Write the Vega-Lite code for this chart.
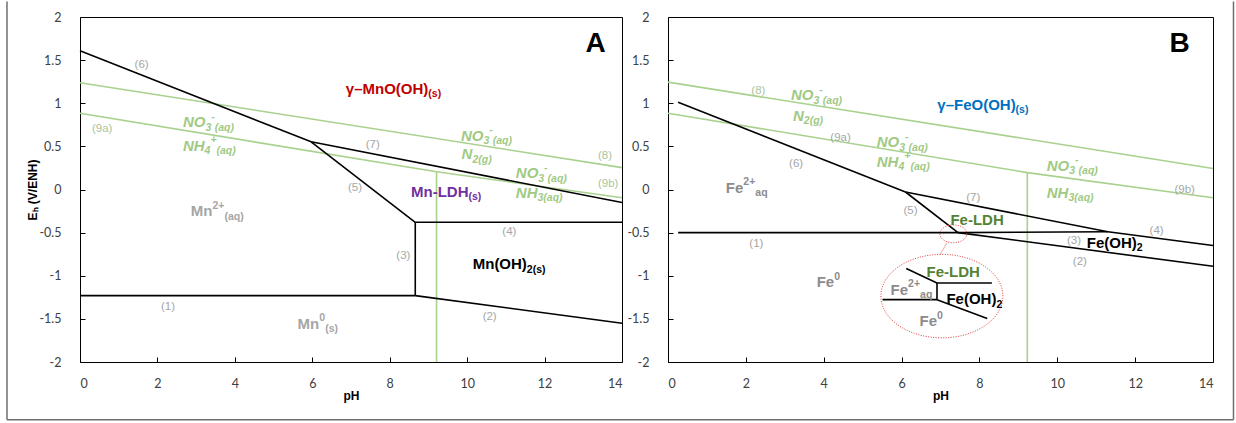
{
  "$schema": "https://vega.github.io/schema/vega-lite/v6.json",
  "padding": {"left": 5, "top": 0, "right": 0, "bottom": 0},
  "background": "white",
  "bounds": "flush",
  "spacing": 46,
  "datasets": {
    "lines": [
      {"p": "A", "id": "g8", "c": "g", "o": 0, "ph": 0, "e": 1.238},
      {"p": "A", "id": "g8", "c": "g", "o": 1, "ph": 14, "e": 0.254},
      {"p": "A", "id": "g9a", "c": "g", "o": 0, "ph": 0, "e": 0.884},
      {"p": "A", "id": "g9a", "c": "g", "o": 1, "ph": 9.21, "e": 0.205},
      {"p": "A", "id": "g9b", "c": "g", "o": 0, "ph": 9.21, "e": 0.205},
      {"p": "A", "id": "g9b", "c": "g", "o": 1, "ph": 14, "e": -0.095},
      {"p": "A", "id": "gv", "c": "g", "o": 0, "ph": 9.21, "e": 0.205},
      {"p": "A", "id": "gv", "c": "g", "o": 1, "ph": 9.21, "e": -2},
      {"p": "A", "id": "k6", "c": "k", "o": 0, "ph": 0, "e": 1.61},
      {"p": "A", "id": "k6", "c": "k", "o": 1, "ph": 5.97, "e": 0.553},
      {"p": "A", "id": "k7", "c": "k", "o": 0, "ph": 5.97, "e": 0.553},
      {"p": "A", "id": "k7", "c": "k", "o": 1, "ph": 14, "e": -0.15},
      {"p": "A", "id": "k5", "c": "k", "o": 0, "ph": 5.97, "e": 0.553},
      {"p": "A", "id": "k5", "c": "k", "o": 1, "ph": 8.66, "e": -0.38},
      {"p": "A", "id": "k4", "c": "k", "o": 0, "ph": 8.66, "e": -0.38},
      {"p": "A", "id": "k4", "c": "k", "o": 1, "ph": 14, "e": -0.38},
      {"p": "A", "id": "k3", "c": "k", "o": 0, "ph": 8.66, "e": -0.38},
      {"p": "A", "id": "k3", "c": "k", "o": 1, "ph": 8.66, "e": -1.23},
      {"p": "A", "id": "k1", "c": "k", "o": 0, "ph": 0, "e": -1.23},
      {"p": "A", "id": "k1", "c": "k", "o": 1, "ph": 8.66, "e": -1.23},
      {"p": "A", "id": "k2", "c": "k", "o": 0, "ph": 8.66, "e": -1.23},
      {"p": "A", "id": "k2", "c": "k", "o": 1, "ph": 14, "e": -1.55},
      {"p": "B", "id": "g8", "c": "g", "o": 0, "ph": 0, "e": 1.245},
      {"p": "B", "id": "g8", "c": "g", "o": 1, "ph": 14, "e": 0.243},
      {"p": "B", "id": "g9a", "c": "g", "o": 0, "ph": 0, "e": 0.884},
      {"p": "B", "id": "g9a", "c": "g", "o": 1, "ph": 9.23, "e": 0.196},
      {"p": "B", "id": "g9b", "c": "g", "o": 0, "ph": 9.23, "e": 0.196},
      {"p": "B", "id": "g9b", "c": "g", "o": 1, "ph": 14, "e": -0.096},
      {"p": "B", "id": "gv", "c": "g", "o": 0, "ph": 9.23, "e": 0.196},
      {"p": "B", "id": "gv", "c": "g", "o": 1, "ph": 9.23, "e": -2},
      {"p": "B", "id": "k6", "c": "k", "o": 0, "ph": 0.26, "e": 1.012},
      {"p": "B", "id": "k6", "c": "k", "o": 1, "ph": 6.1, "e": -0.029},
      {"p": "B", "id": "k7", "c": "k", "o": 0, "ph": 6.1, "e": -0.029},
      {"p": "B", "id": "k7", "c": "k", "o": 1, "ph": 11.3, "e": -0.49},
      {"p": "B", "id": "k4", "c": "k", "o": 0, "ph": 11.3, "e": -0.49},
      {"p": "B", "id": "k4", "c": "k", "o": 1, "ph": 14, "e": -0.65},
      {"p": "B", "id": "k5", "c": "k", "o": 0, "ph": 6.1, "e": -0.029},
      {"p": "B", "id": "k5", "c": "k", "o": 1, "ph": 7.45, "e": -0.5},
      {"p": "B", "id": "k1", "c": "k", "o": 0, "ph": 0.26, "e": -0.5},
      {"p": "B", "id": "k1", "c": "k", "o": 1, "ph": 7.45, "e": -0.5},
      {"p": "B", "id": "k3", "c": "k", "o": 0, "ph": 7.45, "e": -0.5},
      {"p": "B", "id": "k3", "c": "k", "o": 1, "ph": 11.3, "e": -0.49},
      {"p": "B", "id": "k2", "c": "k", "o": 0, "ph": 7.45, "e": -0.5},
      {"p": "B", "id": "k2", "c": "k", "o": 1, "ph": 14, "e": -0.89},
      {"p": "B", "id": "i1", "c": "k", "o": 0, "ph": 6.12, "e": -0.917},
      {"p": "B", "id": "i1", "c": "k", "o": 1, "ph": 6.91, "e": -1.084},
      {"p": "B", "id": "i2", "c": "k", "o": 0, "ph": 6.91, "e": -1.084},
      {"p": "B", "id": "i2", "c": "k", "o": 1, "ph": 8.32, "e": -1.084},
      {"p": "B", "id": "i3", "c": "k", "o": 0, "ph": 6.91, "e": -1.084},
      {"p": "B", "id": "i3", "c": "k", "o": 1, "ph": 6.91, "e": -1.277},
      {"p": "B", "id": "i4", "c": "k", "o": 0, "ph": 5.51, "e": -1.277},
      {"p": "B", "id": "i4", "c": "k", "o": 1, "ph": 6.91, "e": -1.277},
      {"p": "B", "id": "i5", "c": "k", "o": 0, "ph": 6.91, "e": -1.277},
      {"p": "B", "id": "i5", "c": "k", "o": 1, "ph": 8.2, "e": -1.495},
      {"p": "B", "id": "cn", "c": "r", "o": 0, "ph": 7.17, "e": -0.615},
      {"p": "B", "id": "cn", "c": "r", "o": 1, "ph": 6.99, "e": -0.754}
    ],
    "ell": [
      {"p": "B", "id": "big", "ph": 7.036, "e": -1.236},
      {"p": "B", "id": "small", "ph": 7.33, "e": -0.514}
    ],
    "frame": [
      {"ph": -1.886, "e": 2.18, "ph2": -1.886, "e2": -2.67},
      {"ph": 29.795, "e": 2.18, "ph2": 29.795, "e2": -2.67},
      {"ph": -1.886, "e": -2.67, "ph2": 29.795, "e2": -2.67}
    ],
    "labels": [
      {"p": "A", "k": "n", "c": "gr", "t": "(6)", "ph": 1.41, "e": 1.44},
      {"p": "A", "k": "n", "c": "gg", "t": "(9a)", "ph": 0.31, "e": 0.70},
      {"p": "A", "k": "n", "c": "gr", "t": "(7)", "ph": 7.38, "e": 0.52},
      {"p": "A", "k": "n", "c": "gg", "t": "(8)", "ph": 13.38, "e": 0.39},
      {"p": "A", "k": "n", "c": "gg", "t": "(9b)", "ph": 13.38, "e": 0.06},
      {"p": "A", "k": "n", "c": "gr", "t": "(5)", "ph": 6.92, "e": 0.02},
      {"p": "A", "k": "n", "c": "gr", "t": "(4)", "ph": 10.91, "e": -0.49},
      {"p": "A", "k": "n", "c": "gr", "t": "(3)", "ph": 8.17, "e": -0.77},
      {"p": "A", "k": "n", "c": "gr", "t": "(1)", "ph": 2.09, "e": -1.36},
      {"p": "A", "k": "n", "c": "gr", "t": "(2)", "ph": 10.40, "e": -1.475},
      {"p": "A", "k": "s", "c": "red", "t": "γ–MnO(OH)", "ph": 6.866, "e": 1.168},
      {"p": "A", "k": "ss", "c": "red", "t": "(s)", "ph": 8.997, "e": 1.168},
      {"p": "A", "k": "s", "c": "pur", "t": "Mn-LDH", "ph": 8.55, "e": -0.025},
      {"p": "A", "k": "ss", "c": "pur", "t": "(s)", "ph": 10.035, "e": -0.025},
      {"p": "A", "k": "s", "c": "gm", "t": "Mn", "ph": 2.862, "e": -0.25},
      {"p": "A", "k": "sp", "c": "gm", "t": "2+", "ph": 3.422, "e": -0.25},
      {"p": "A", "k": "ss", "c": "gm", "t": "(aq)", "ph": 3.73, "e": -0.25},
      {"p": "A", "k": "s", "c": "blk", "t": "Mn(OH)", "ph": 10.144, "e": -0.868},
      {"p": "A", "k": "ss", "c": "blk", "t": "2(s)", "ph": 11.542, "e": -0.868},
      {"p": "A", "k": "s", "c": "gm", "t": "Mn", "ph": 5.621, "e": -1.555},
      {"p": "A", "k": "sp", "c": "gm", "t": "0", "ph": 6.181, "e": -1.555},
      {"p": "A", "k": "ss", "c": "gm", "t": "(s)", "ph": 6.332, "e": -1.555},
      {"p": "A", "k": "i", "c": "g", "t": "NO", "ph": 2.658, "e": 0.78},
      {"p": "A", "k": "is", "c": "g", "t": "3", "ph": 3.239, "e": 0.78},
      {"p": "A", "k": "ip", "c": "g", "t": "-", "ph": 3.389, "e": 0.78},
      {"p": "A", "k": "is", "c": "g", "t": "(aq)", "ph": 3.479, "e": 0.78},
      {"p": "A", "k": "i", "c": "g", "t": "NH", "ph": 2.658, "e": 0.507},
      {"p": "A", "k": "is", "c": "g", "t": "4", "ph": 3.218, "e": 0.507},
      {"p": "A", "k": "ip", "c": "g", "t": "+", "ph": 3.368, "e": 0.507},
      {"p": "A", "k": "is", "c": "g", "t": "(aq)", "ph": 3.526, "e": 0.507},
      {"p": "A", "k": "i", "c": "g", "t": "NO", "ph": 9.839, "e": 0.624},
      {"p": "A", "k": "is", "c": "g", "t": "3", "ph": 10.42, "e": 0.624},
      {"p": "A", "k": "ip", "c": "g", "t": "-", "ph": 10.57, "e": 0.624},
      {"p": "A", "k": "is", "c": "g", "t": "(aq)", "ph": 10.66, "e": 0.624},
      {"p": "A", "k": "i", "c": "g", "t": "N", "ph": 9.857, "e": 0.41},
      {"p": "A", "k": "is", "c": "g", "t": "2(g)", "ph": 10.136, "e": 0.41},
      {"p": "A", "k": "i", "c": "g", "t": "NO", "ph": 11.257, "e": 0.19},
      {"p": "A", "k": "is", "c": "g", "t": "3", "ph": 11.838, "e": 0.19},
      {"p": "A", "k": "ip", "c": "g", "t": "-", "ph": 11.988, "e": 0.19},
      {"p": "A", "k": "is", "c": "g", "t": "(aq)", "ph": 12.078, "e": 0.19},
      {"p": "A", "k": "i", "c": "g", "t": "NH", "ph": 11.257, "e": -0.037},
      {"p": "A", "k": "is", "c": "g", "t": "3(aq)", "ph": 11.817, "e": -0.037},
      {"p": "A", "k": "L", "c": "blk", "t": "A", "ph": 13.32, "e": 1.685},
      {"p": "B", "k": "n", "c": "gg", "t": "(8)", "ph": 2.14, "e": 1.14},
      {"p": "B", "k": "n", "c": "gr", "t": "(9a)", "ph": 4.17, "e": 0.60},
      {"p": "B", "k": "n", "c": "gr", "t": "(6)", "ph": 3.11, "e": 0.30},
      {"p": "B", "k": "n", "c": "gr", "t": "(7)", "ph": 7.66, "e": -0.096},
      {"p": "B", "k": "n", "c": "gr", "t": "(9b)", "ph": 13.01, "e": 0.0},
      {"p": "B", "k": "n", "c": "gr", "t": "(5)", "ph": 6.05, "e": -0.25},
      {"p": "B", "k": "n", "c": "gr", "t": "(4)", "ph": 12.37, "e": -0.48},
      {"p": "B", "k": "n", "c": "gr", "t": "(1)", "ph": 2.09, "e": -0.636},
      {"p": "B", "k": "n", "c": "gr", "t": "(3)", "ph": 10.25, "e": -0.597},
      {"p": "B", "k": "n", "c": "gr", "t": "(2)", "ph": 10.40, "e": -0.84},
      {"p": "B", "k": "s", "c": "blu", "t": "γ–FeO(OH)", "ph": 6.918, "e": 0.985},
      {"p": "B", "k": "ss", "c": "blu", "t": "(s)", "ph": 8.929, "e": 0.985},
      {"p": "B", "k": "s", "c": "gf", "t": "Fe", "ph": 1.485, "e": 0.02},
      {"p": "B", "k": "sp", "c": "gf", "t": "2+", "ph": 1.934, "e": 0.02},
      {"p": "B", "k": "ss", "c": "gf", "t": "aq", "ph": 2.243, "e": 0.02},
      {"p": "B", "k": "s", "c": "olv", "t": "Fe-LDH", "ph": 7.254, "e": -0.35},
      {"p": "B", "k": "s", "c": "blk", "t": "Fe(OH)", "ph": 10.758, "e": -0.62},
      {"p": "B", "k": "ss", "c": "blk", "t": "2", "ph": 12.042, "e": -0.62},
      {"p": "B", "k": "s", "c": "gf", "t": "Fe", "ph": 3.82, "e": -1.075},
      {"p": "B", "k": "sp", "c": "gf", "t": "0", "ph": 4.269, "e": -1.075},
      {"p": "B", "k": "s", "c": "olv", "t": "Fe-LDH", "ph": 6.643, "e": -0.957},
      {"p": "B", "k": "s", "c": "gf", "t": "Fe", "ph": 5.718, "e": -1.16},
      {"p": "B", "k": "sp", "c": "gf", "t": "2+", "ph": 6.168, "e": -1.16},
      {"p": "B", "k": "ss", "c": "gf", "t": "aq", "ph": 6.476, "e": -1.16},
      {"p": "B", "k": "s", "c": "blk", "t": "Fe(OH)", "ph": 7.151, "e": -1.27},
      {"p": "B", "k": "ss", "c": "blk", "t": "2", "ph": 8.436, "e": -1.27},
      {"p": "B", "k": "s", "c": "gf", "t": "Fe", "ph": 6.46, "e": -1.527},
      {"p": "B", "k": "sp", "c": "gf", "t": "0", "ph": 6.91, "e": -1.527},
      {"p": "B", "k": "i", "c": "g", "t": "NO", "ph": 3.16, "e": 1.09},
      {"p": "B", "k": "is", "c": "g", "t": "3", "ph": 3.737, "e": 1.09},
      {"p": "B", "k": "ip", "c": "g", "t": "-", "ph": 3.887, "e": 1.09},
      {"p": "B", "k": "is", "c": "g", "t": "(aq)", "ph": 3.977, "e": 1.09},
      {"p": "B", "k": "i", "c": "g", "t": "N", "ph": 3.211, "e": 0.857},
      {"p": "B", "k": "is", "c": "g", "t": "2(g)", "ph": 3.489, "e": 0.857},
      {"p": "B", "k": "i", "c": "g", "t": "NO", "ph": 5.363, "e": 0.546},
      {"p": "B", "k": "is", "c": "g", "t": "3", "ph": 5.942, "e": 0.546},
      {"p": "B", "k": "ip", "c": "g", "t": "-", "ph": 6.091, "e": 0.546},
      {"p": "B", "k": "is", "c": "g", "t": "(aq)", "ph": 6.18, "e": 0.546},
      {"p": "B", "k": "i", "c": "g", "t": "NH", "ph": 5.363, "e": 0.32},
      {"p": "B", "k": "is", "c": "g", "t": "4", "ph": 5.92, "e": 0.32},
      {"p": "B", "k": "ip", "c": "g", "t": "+", "ph": 6.07, "e": 0.32},
      {"p": "B", "k": "is", "c": "g", "t": "(aq)", "ph": 6.227, "e": 0.32},
      {"p": "B", "k": "i", "c": "g", "t": "NO", "ph": 9.73, "e": 0.274},
      {"p": "B", "k": "is", "c": "g", "t": "3", "ph": 10.308, "e": 0.274},
      {"p": "B", "k": "ip", "c": "g", "t": "-", "ph": 10.457, "e": 0.274},
      {"p": "B", "k": "is", "c": "g", "t": "(aq)", "ph": 10.547, "e": 0.274},
      {"p": "B", "k": "i", "c": "g", "t": "NH", "ph": 9.73, "e": -0.037},
      {"p": "B", "k": "is", "c": "g", "t": "3(aq)", "ph": 10.288, "e": -0.037},
      {"p": "B", "k": "L", "c": "blk", "t": "B", "ph": 13.14, "e": 1.685}
    ]
  },
  "hconcat": [
    {
      "width": 542,
      "height": 345,
      "encoding": {
        "x": {"field": "ph", "type": "quantitative", "title": "pH", "scale": {"domain": [0, 14], "nice": false, "zero": false}, "axis": {"values": [0, 2, 4, 6, 8, 10, 12, 14], "labelExpr": "toString(datum.value)"}},
        "y": {"field": "e", "type": "quantitative", "title": "Eₕ (V/ENH)", "scale": {"domain": [-2, 2], "nice": false, "zero": false}, "axis": {"values": [-2, -1.5, -1, -0.5, 0, 0.5, 1, 1.5, 2], "labelExpr": "toString(datum.value)"}},
        "color": {"field": "c", "type": "nominal", "legend": null, "scale": {"domain": ["gr", "gg", "g", "red", "pur", "blu", "olv", "blk", "gm", "gf"], "range": ["#a6a6a6", "#a9c39b", "#9fca84", "#c00000", "#7030a0", "#0070c0", "#548235", "#000000", "#a6a6a6", "#8c8c8c"]}}
      },
      "layer": [
        {"data": {"name": "frame"}, "mark": {"type": "rule", "stroke": "#6e6e6e", "strokeWidth": 1.5, "clip": false}, "encoding": {"x2": {"field": "ph2"}, "y2": {"field": "e2"}, "color": {"value": "#6e6e6e"}}},
        {"data": {"name": "lines"}, "transform": [{"filter": "datum.p === 'A' && datum.c === 'g'"}], "mark": {"type": "line", "strokeWidth": 1.6}, "encoding": {"color": {"value": "#a9d18e"}, "detail": {"field": "id", "type": "nominal"}, "order": {"field": "o", "type": "quantitative"}}},
        {"data": {"name": "lines"}, "transform": [{"filter": "datum.p === 'A' && datum.c === 'k'"}], "mark": {"type": "line", "strokeWidth": 1.6}, "encoding": {"color": {"value": "#000000"}, "detail": {"field": "id", "type": "nominal"}, "order": {"field": "o", "type": "quantitative"}}},
        {"data": {"name": "labels"}, "transform": [{"filter": "datum.p === 'A' && datum.k === 'n'"}], "mark": {"type": "text", "align": "left", "baseline": "middle", "font": "Liberation Sans", "fontSize": 11.5}, "encoding": {"text": {"field": "t"}}},
        {"data": {"name": "labels"}, "transform": [{"filter": "datum.p === 'A' && datum.k === 's'"}], "mark": {"type": "text", "align": "left", "baseline": "middle", "font": "Liberation Sans", "fontWeight": "bold", "fontSize": 15}, "encoding": {"text": {"field": "t"}}},
        {"data": {"name": "labels"}, "transform": [{"filter": "datum.p === 'A' && datum.k === 'ss'"}], "mark": {"type": "text", "align": "left", "baseline": "middle", "dy": 5.5, "font": "Liberation Sans", "fontWeight": "bold", "fontSize": 10.5}, "encoding": {"text": {"field": "t"}}},
        {"data": {"name": "labels"}, "transform": [{"filter": "datum.p === 'A' && datum.k === 'sp'"}], "mark": {"type": "text", "align": "left", "baseline": "middle", "dy": -5.5, "font": "Liberation Sans", "fontWeight": "bold", "fontSize": 10.5}, "encoding": {"text": {"field": "t"}}},
        {"data": {"name": "labels"}, "transform": [{"filter": "datum.p === 'A' && datum.k === 'i'"}], "mark": {"type": "text", "align": "left", "baseline": "middle", "font": "Liberation Sans", "fontWeight": "bold", "fontStyle": "italic", "fontSize": 15}, "encoding": {"text": {"field": "t"}}},
        {"data": {"name": "labels"}, "transform": [{"filter": "datum.p === 'A' && datum.k === 'is'"}], "mark": {"type": "text", "align": "left", "baseline": "middle", "dy": 5.5, "font": "Liberation Sans", "fontWeight": "bold", "fontStyle": "italic", "fontSize": 10.5}, "encoding": {"text": {"field": "t"}}},
        {"data": {"name": "labels"}, "transform": [{"filter": "datum.p === 'A' && datum.k === 'ip'"}], "mark": {"type": "text", "align": "left", "baseline": "middle", "dy": -5.5, "font": "Liberation Sans", "fontWeight": "bold", "fontStyle": "italic", "fontSize": 10.5}, "encoding": {"text": {"field": "t"}}},
        {"data": {"name": "labels"}, "transform": [{"filter": "datum.p === 'A' && datum.k === 'L'"}], "mark": {"type": "text", "align": "center", "baseline": "middle", "font": "Liberation Sans", "fontWeight": "bold", "fontSize": 28}, "encoding": {"text": {"field": "t"}}}
      ]
    },
    {
      "width": 545,
      "height": 345,
      "encoding": {
        "x": {"field": "ph", "type": "quantitative", "title": "pH", "scale": {"domain": [0, 14], "nice": false, "zero": false}, "axis": {"values": [0, 2, 4, 6, 8, 10, 12, 14], "labelExpr": "toString(datum.value)"}},
        "y": {"field": "e", "type": "quantitative", "title": null, "scale": {"domain": [-2, 2], "nice": false, "zero": false}, "axis": {"values": [-2, -1.5, -1, -0.5, 0, 0.5, 1, 1.5, 2], "labelExpr": "toString(datum.value)"}},
        "color": {"field": "c", "type": "nominal", "legend": null, "scale": {"domain": ["gr", "gg", "g", "red", "pur", "blu", "olv", "blk", "gm", "gf"], "range": ["#a6a6a6", "#a9c39b", "#9fca84", "#c00000", "#7030a0", "#0070c0", "#548235", "#000000", "#a6a6a6", "#8c8c8c"]}}
      },
      "layer": [
        {"data": {"name": "lines"}, "transform": [{"filter": "datum.p === 'B' && datum.c === 'g'"}], "mark": {"type": "line", "strokeWidth": 1.6}, "encoding": {"color": {"value": "#a9d18e"}, "detail": {"field": "id", "type": "nominal"}, "order": {"field": "o", "type": "quantitative"}}},
        {"data": {"name": "lines"}, "transform": [{"filter": "datum.p === 'B' && datum.c === 'k'"}], "mark": {"type": "line", "strokeWidth": 1.6}, "encoding": {"color": {"value": "#000000"}, "detail": {"field": "id", "type": "nominal"}, "order": {"field": "o", "type": "quantitative"}}},
        {"data": {"name": "lines"}, "transform": [{"filter": "datum.p === 'B' && datum.c === 'r'"}], "mark": {"type": "line", "strokeWidth": 1}, "encoding": {"color": {"value": "#f2a6a6"}, "detail": {"field": "id", "type": "nominal"}, "order": {"field": "o", "type": "quantitative"}}},
        {"data": {"name": "ell"}, "transform": [{"filter": "datum.id === 'big'"}], "mark": {"type": "point", "shape": "M -1 0 A 1 0.684 0 1 0 1 0 A 1 0.684 0 1 0 -1 0 Z", "size": 14884, "filled": false, "strokeWidth": 1, "strokeDash": [1, 1.5], "opacity": 1}, "encoding": {"color": {"value": "#e03c3c"}}},
        {"data": {"name": "ell"}, "transform": [{"filter": "datum.id === 'small'"}], "mark": {"type": "point", "shape": "M -1 0 A 1 0.66 0 1 0 1 0 A 1 0.66 0 1 0 -1 0 Z", "size": 729, "filled": false, "strokeWidth": 1, "strokeDash": [1, 1.5], "opacity": 1}, "encoding": {"color": {"value": "#e03c3c"}}},
        {"data": {"name": "labels"}, "transform": [{"filter": "datum.p === 'B' && datum.k === 'n'"}], "mark": {"type": "text", "align": "left", "baseline": "middle", "font": "Liberation Sans", "fontSize": 11.5}, "encoding": {"text": {"field": "t"}}},
        {"data": {"name": "labels"}, "transform": [{"filter": "datum.p === 'B' && datum.k === 's'"}], "mark": {"type": "text", "align": "left", "baseline": "middle", "font": "Liberation Sans", "fontWeight": "bold", "fontSize": 15}, "encoding": {"text": {"field": "t"}}},
        {"data": {"name": "labels"}, "transform": [{"filter": "datum.p === 'B' && datum.k === 'ss'"}], "mark": {"type": "text", "align": "left", "baseline": "middle", "dy": 5.5, "font": "Liberation Sans", "fontWeight": "bold", "fontSize": 10.5}, "encoding": {"text": {"field": "t"}}},
        {"data": {"name": "labels"}, "transform": [{"filter": "datum.p === 'B' && datum.k === 'sp'"}], "mark": {"type": "text", "align": "left", "baseline": "middle", "dy": -5.5, "font": "Liberation Sans", "fontWeight": "bold", "fontSize": 10.5}, "encoding": {"text": {"field": "t"}}},
        {"data": {"name": "labels"}, "transform": [{"filter": "datum.p === 'B' && datum.k === 'i'"}], "mark": {"type": "text", "align": "left", "baseline": "middle", "font": "Liberation Sans", "fontWeight": "bold", "fontStyle": "italic", "fontSize": 15}, "encoding": {"text": {"field": "t"}}},
        {"data": {"name": "labels"}, "transform": [{"filter": "datum.p === 'B' && datum.k === 'is'"}], "mark": {"type": "text", "align": "left", "baseline": "middle", "dy": 5.5, "font": "Liberation Sans", "fontWeight": "bold", "fontStyle": "italic", "fontSize": 10.5}, "encoding": {"text": {"field": "t"}}},
        {"data": {"name": "labels"}, "transform": [{"filter": "datum.p === 'B' && datum.k === 'ip'"}], "mark": {"type": "text", "align": "left", "baseline": "middle", "dy": -5.5, "font": "Liberation Sans", "fontWeight": "bold", "fontStyle": "italic", "fontSize": 10.5}, "encoding": {"text": {"field": "t"}}},
        {"data": {"name": "labels"}, "transform": [{"filter": "datum.p === 'B' && datum.k === 'L'"}], "mark": {"type": "text", "align": "center", "baseline": "middle", "font": "Liberation Sans", "fontWeight": "bold", "fontSize": 28}, "encoding": {"text": {"field": "t"}}}
      ]
    }
  ],
  "config": {
    "view": {"stroke": "#000000", "strokeWidth": 1},
    "axis": {"domain": false, "grid": false, "ticks": true, "tickColor": "#000000", "tickSize": -5, "tickWidth": 1, "labelFont": "Lato", "labelFontSize": 12.5, "labelColor": "#404040", "labelPadding": 20, "titleFont": "Liberation Sans", "titleFontSize": 12, "titleFontWeight": "bold", "titleColor": "#000000"},
    "axisX": {"titlePadding": 1},
    "axisY": {"titlePadding": -1, "labelPadding": 24}
  }
}
